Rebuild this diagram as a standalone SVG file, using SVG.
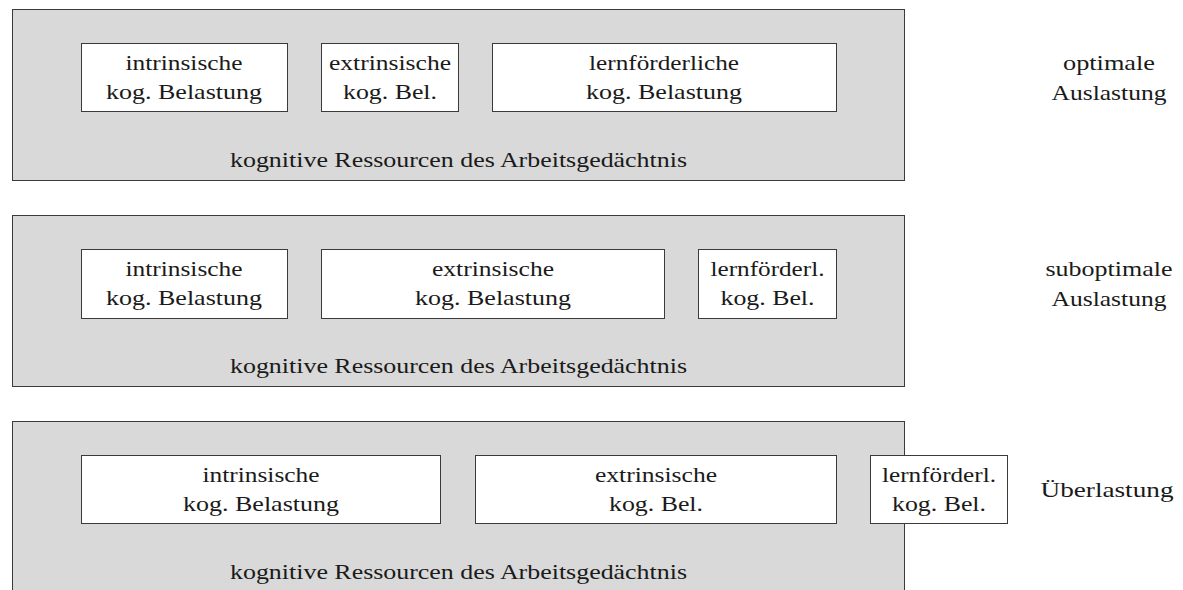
<svg xmlns="http://www.w3.org/2000/svg" width="1183" height="590" viewBox="0 0 1183 590">
  <style>
    .panel { fill: #d9d9d9; stroke: #3a3a3a; stroke-width: 1; }
    .box { fill: #ffffff; stroke: #3a3a3a; stroke-width: 1; }
    text { font-family: "Liberation Serif", "Times New Roman", serif; font-size: 21px; fill: #1a1a1a; text-anchor: middle; }
  </style>
  <rect width="1183" height="590" fill="#ffffff"/>

  <!-- Row 1: optimale Auslastung -->
  <g id="panel-optimal">
    <rect class="panel" x="12.5" y="9.5" width="892" height="171"/>
    <text x="458.5" y="167" textLength="457" lengthAdjust="spacingAndGlyphs">kognitive Ressourcen des Arbeitsgedächtnis</text>
  </g>
  <g id="optimal-intrinsic">
    <rect class="box" x="81.5" y="43.5" width="206" height="68"/>
    <text x="184" y="70" textLength="117" lengthAdjust="spacingAndGlyphs">intrinsische</text>
    <text x="184" y="99" textLength="156" lengthAdjust="spacingAndGlyphs">kog. Belastung</text>
  </g>
  <g id="optimal-extrinsic">
    <rect class="box" x="321.5" y="43.5" width="137" height="68"/>
    <text x="390" y="70" textLength="122" lengthAdjust="spacingAndGlyphs">extrinsische</text>
    <text x="390" y="99" textLength="94" lengthAdjust="spacingAndGlyphs">kog. Bel.</text>
  </g>
  <g id="optimal-germane">
    <rect class="box" x="492.5" y="43.5" width="344" height="68"/>
    <text x="664" y="70" textLength="150" lengthAdjust="spacingAndGlyphs">lernförderliche</text>
    <text x="664" y="99" textLength="156" lengthAdjust="spacingAndGlyphs">kog. Belastung</text>
  </g>
  <g id="label-optimal">
    <text x="1109" y="70" textLength="92" lengthAdjust="spacingAndGlyphs">optimale</text>
    <text x="1109" y="100" textLength="115" lengthAdjust="spacingAndGlyphs">Auslastung</text>
  </g>

  <!-- Row 2: suboptimale Auslastung -->
  <g id="panel-suboptimal">
    <rect class="panel" x="12.5" y="215.5" width="892" height="171"/>
    <text x="458.5" y="373" textLength="457" lengthAdjust="spacingAndGlyphs">kognitive Ressourcen des Arbeitsgedächtnis</text>
  </g>
  <g id="suboptimal-intrinsic">
    <rect class="box" x="81.5" y="249.5" width="206" height="69"/>
    <text x="184" y="276" textLength="117" lengthAdjust="spacingAndGlyphs">intrinsische</text>
    <text x="184" y="305" textLength="156" lengthAdjust="spacingAndGlyphs">kog. Belastung</text>
  </g>
  <g id="suboptimal-extrinsic">
    <rect class="box" x="321.5" y="249.5" width="343" height="69"/>
    <text x="493" y="276" textLength="122" lengthAdjust="spacingAndGlyphs">extrinsische</text>
    <text x="493" y="305" textLength="156" lengthAdjust="spacingAndGlyphs">kog. Belastung</text>
  </g>
  <g id="suboptimal-germane">
    <rect class="box" x="698.5" y="249.5" width="138" height="69"/>
    <text x="767.5" y="276" textLength="114" lengthAdjust="spacingAndGlyphs">lernförderl.</text>
    <text x="767.5" y="305" textLength="94" lengthAdjust="spacingAndGlyphs">kog. Bel.</text>
  </g>
  <g id="label-suboptimal">
    <text x="1109" y="276" textLength="127" lengthAdjust="spacingAndGlyphs">suboptimale</text>
    <text x="1109" y="306" textLength="115" lengthAdjust="spacingAndGlyphs">Auslastung</text>
  </g>

  <!-- Row 3: Überlastung -->
  <g id="panel-overload">
    <rect class="panel" x="12.5" y="421.5" width="892" height="200"/>
    <text x="458.5" y="579" textLength="457" lengthAdjust="spacingAndGlyphs">kognitive Ressourcen des Arbeitsgedächtnis</text>
  </g>
  <g id="overload-intrinsic">
    <rect class="box" x="81.5" y="455.5" width="359" height="68"/>
    <text x="261" y="482" textLength="117" lengthAdjust="spacingAndGlyphs">intrinsische</text>
    <text x="261" y="511" textLength="156" lengthAdjust="spacingAndGlyphs">kog. Belastung</text>
  </g>
  <g id="overload-extrinsic">
    <rect class="box" x="475.5" y="455.5" width="361" height="68"/>
    <text x="656" y="482" textLength="122" lengthAdjust="spacingAndGlyphs">extrinsische</text>
    <text x="656" y="511" textLength="94" lengthAdjust="spacingAndGlyphs">kog. Bel.</text>
  </g>
  <g id="overload-germane">
    <rect class="box" x="870.5" y="455.5" width="137" height="68"/>
    <text x="939" y="482" textLength="114" lengthAdjust="spacingAndGlyphs">lernförderl.</text>
    <text x="939" y="511" textLength="94" lengthAdjust="spacingAndGlyphs">kog. Bel.</text>
  </g>
  <g id="label-overload">
    <text x="1107" y="497" textLength="133" lengthAdjust="spacingAndGlyphs">Überlastung</text>
  </g>

  <g id="connectors"/>
</svg>
